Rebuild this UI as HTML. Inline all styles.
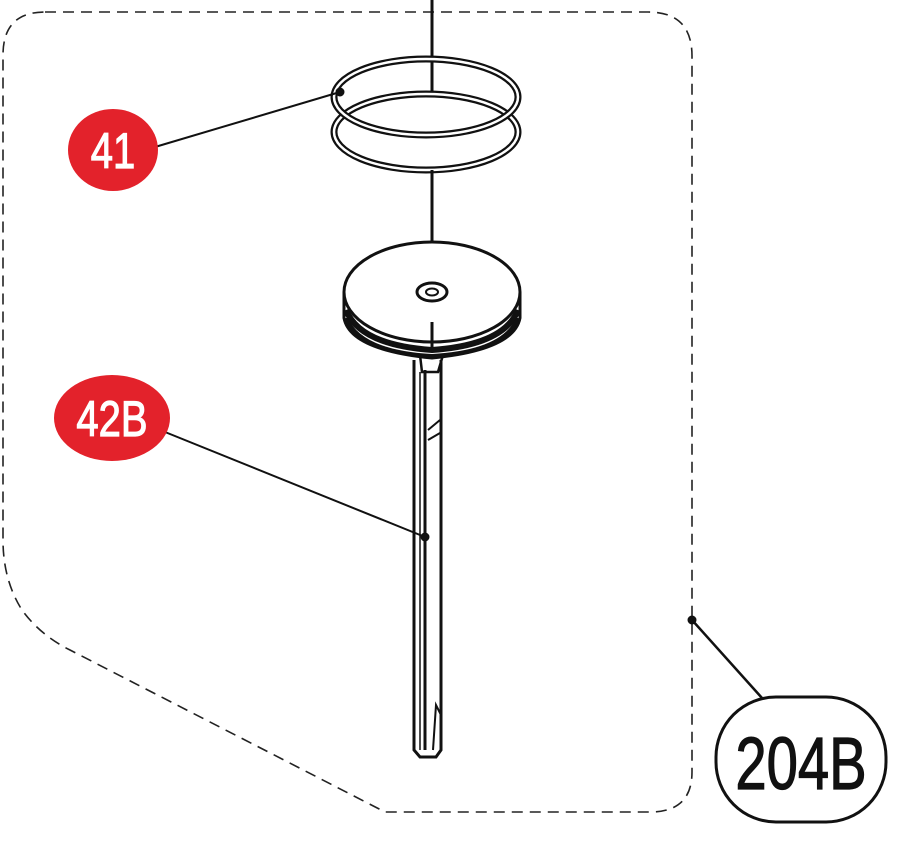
<!DOCTYPE html>
<html><head><style>body{margin:0;background:#fff}svg{display:block}</style></head><body>
<svg width="908" height="844" viewBox="0 0 908 844" xmlns="http://www.w3.org/2000/svg">
<path d="M45 12 H648 Q692 12 692 56 V772 Q692 812 650 812 H385 L70 650 Q40 635 22 610 Q3 580 3 540 V55 Q3 12 45 12 Z" fill="none" stroke="#222" stroke-width="1.6" stroke-dasharray="11 7"/>
<g fill="none" stroke="#111">
<line x1="432" y1="0" x2="432" y2="92" stroke-width="3"/>
<ellipse cx="426" cy="132" rx="92" ry="38" stroke-width="7"/>
<ellipse cx="426" cy="132" rx="92" ry="38" stroke="#fff" stroke-width="2.5"/>
<ellipse cx="426" cy="97" rx="92" ry="38" stroke-width="7"/>
<ellipse cx="426" cy="97" rx="92" ry="38" stroke="#fff" stroke-width="2.5"/>
<line x1="432" y1="170" x2="432" y2="246" stroke-width="3"/>
<path d="M414 360 V750 L420 757 H436 L441 750 V360" fill="#fff" stroke-width="3"/>
<line x1="425" y1="370" x2="425" y2="750" stroke-width="3"/>
<line x1="420" y1="372" x2="420" y2="750" stroke-width="1.5"/>
<path d="M428 430 L440 420 M428 440 L440 433" stroke-width="2"/>
<path d="M433 750 L436 705 L441 715" stroke-width="2"/>
<path d="M420 355 L422 372 H438 L443 355" stroke-width="2.5"/>
<path d="M344 292 V318 Q350 350 432 358 Q514 350 520 318 V292" fill="#fff" stroke-width="3"/>
<path d="M346 310 Q360 345 432 350 Q504 345 518 310" stroke-width="6"/>
<path d="M346 318 Q360 352 432 356 Q504 352 518 318" stroke-width="4"/>
<ellipse cx="432" cy="292" rx="88" ry="50" fill="#fff" stroke-width="3"/>
<ellipse cx="432" cy="292" rx="15" ry="9" stroke-width="3"/>
<ellipse cx="432" cy="292" rx="6" ry="3.5" stroke-width="2"/>
<line x1="432" y1="322" x2="432" y2="348" stroke-width="3"/>
<line x1="155" y1="147" x2="340" y2="92" stroke-width="2"/>
<circle cx="340" cy="92" r="4" fill="#111"/>
<line x1="165" y1="432" x2="425" y2="537" stroke-width="2"/>
<circle cx="425" cy="537" r="4" fill="#111"/>
<line x1="692" y1="620" x2="762" y2="698" stroke-width="2.5"/>
<circle cx="692" cy="620" r="4" fill="#111"/>
<rect x="716" y="697" width="170" height="125" rx="60" fill="#fff" stroke-width="3"/>
</g>
<ellipse cx="113" cy="150" rx="45" ry="41" fill="#e3222b"/>
<ellipse cx="112" cy="418" rx="58" ry="43" fill="#e3222b"/>
<g font-family="Liberation Sans Narrow, Liberation Sans, sans-serif">
<text x="113" y="168" text-anchor="middle" font-size="50" fill="#fff" stroke="#fff" stroke-width="1.2" transform="translate(113 0) scale(0.8 1) translate(-113 0)">41</text>
<text x="112" y="436" text-anchor="middle" font-size="50" fill="#fff" stroke="#fff" stroke-width="1.2" transform="translate(112 0) scale(0.8 1) translate(-112 0)">42B</text>
<text x="801" y="789" text-anchor="middle" font-size="74" fill="#111" stroke="#111" stroke-width="1.2" transform="translate(801 0) scale(0.76 1) translate(-801 0)">204B</text>
</g>
</svg>
</body></html>
